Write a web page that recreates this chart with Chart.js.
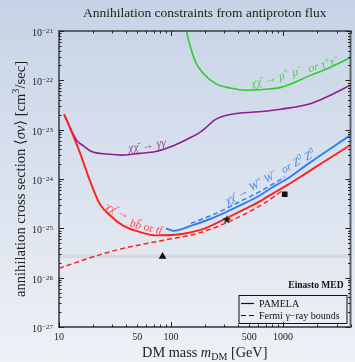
<!DOCTYPE html>
<html>
<head>
<meta charset="utf-8">
<script src="https://cdn.jsdelivr.net/npm/chart.js@4.4.1/dist/chart.umd.min.js"></script>
<style>
  html, body { margin: 0; padding: 0; background: #dde4ef; }
</style>
</head>
<body>
<canvas id="chart" width="355" height="362"></canvas>
<script>
// values: DM mass [GeV] vs <sigma v> [cm^3/s]
const muMass = [134, 138, 149, 165, 189, 248, 347, 457, 692, 955, 1800, 2500, 4000]
const muSigma = [2e-21, 1e-21, 4.8e-22, 2.4e-22, 1.48e-22, 8.7e-23, 6.9e-23, 6.3e-23, 6.6e-23, 7.2e-23, 1.29e-22, 1.74e-22, 2.9e-22]

const gamMass = [11.1, 14.3, 16.5, 19.5, 27, 37, 52, 73, 102, 135, 177, 200, 248, 347, 605, 955, 1780, 2500, 4000]
const gamSigma = [2.05e-23, 6.2e-24, 4.7e-24, 3.6e-24, 3.2e-24, 3.05e-24, 3.3e-24, 3.6e-24, 4.6e-24, 6.2e-24, 8.5e-24, 1.05e-23, 1.6e-23, 2.05e-23, 2.3e-23, 2.6e-23, 3.4e-23, 4.7e-23, 8e-23]

const bbMass = [11.1, 12.5, 15.3, 18.8, 23, 28.3, 37, 52, 73, 120, 177, 217, 303, 427, 603, 843, 1100, 1660, 4000]
const bbSigma = [2.05e-23, 1.1e-23, 3.5e-24, 9.5e-25, 3.2e-25, 1.86e-25, 1.15e-25, 8.5e-26, 7.2e-26, 7.6e-26, 9.1e-26, 1.07e-25, 1.55e-25, 2.29e-25, 3.39e-25, 5.37e-25, 7.59e-25, 1.38e-24, 4.9e-24]

const wwMass = [90, 106, 154, 217, 303, 427, 603, 843, 1100, 1660, 4000]
const wwSigma = [1e-25, 8.9e-26, 1.15e-25, 1.51e-25, 2.09e-25, 3.02e-25, 4.47e-25, 7.24e-25, 1.02e-24, 2.0e-24, 7.76e-24]

// Fermi gamma-ray bounds (dashed)
const fermiBbMass = [10, 23, 37, 78, 145, 177, 303, 603, 843, 960]
const fermiBbSigma = [1.55e-26, 2.9e-26, 3.9e-26, 5.5e-26, 7.2e-26, 8e-26, 1.26e-25, 2.75e-25, 4.5e-25, 5.6e-25]
const fermiWwMass = [150, 217, 303, 427, 603, 843, 1035]
const fermiWwSigma = [1.26e-25, 1.74e-25, 2.45e-25, 3.63e-25, 5.37e-25, 8.3e-25, 1.1e-24]

// thermal cross section band and benchmark points
const bandSigma = 2.72e-26
const triangleMark = [84, 2.7e-26]
const starMark = [315, 1.5e-25]
const squareMark = [1035, 4.9e-25]

const xMin = 10, xMax = 4000
const yMin = 1e-27, yMax = 1e-21
const xTickLabels = [10, 50, 100, 500, 1000]
const yTickExponents = [-27, -26, -25, -24, -23, -22, -21]

const FONT = "'Liberation Serif', 'DejaVu Serif', serif"

const pts = (xs, ys) => xs.map((x, i) => ({ x: x, y: ys[i] }))

// minor + major tick positions (1..9 x 10^n)
const xTickValues = []
for (let e = 1; e <= 3; e++) for (let s = 1; s <= 9; s++) if (s * 10 ** e <= xMax) xTickValues.push(s * 10 ** e)
const yTickValues = []
for (let e = -27; e < -21; e++) for (let s = 1; s <= 9; s++) yTickValues.push(s * 10 ** e)
yTickValues.push(yMax)

const isDecade = (v) => Math.abs(Math.log10(v) - Math.round(Math.log10(v))) < 1e-6

function starImage(r) {
  const c = document.createElement("canvas")
  c.width = c.height = 2 * r + 2
  const g = c.getContext("2d")
  g.beginPath()
  for (let i = 0; i < 10; i++) {
    const a = -Math.PI / 2 + i * Math.PI / 5
    const rr = i % 2 ? r * 0.42 : r
    g.lineTo(r + 1 + rr * Math.cos(a), r + 1 + rr * Math.sin(a))
  }
  g.closePath()
  g.fillStyle = "#111"
  g.fill()
  return c
}

// --- small rich text helper (italic, sup, sub) ---
function setFont(ctx, size, seg) {
  ctx.font = (seg.i ? "italic " : "") + (seg.b ? "bold " : "") + size + "px " + FONT
}
const segSize = (size, seg) => seg.s ? size * 0.7 : size
function richWidth(ctx, segs, size) {
  let w = 0
  for (const seg of segs) {
    setFont(ctx, segSize(size, seg), seg)
    w += ctx.measureText(seg.t).width
  }
  return w
}
function drawRich(ctx, segs, x, y, size, align, supRaise) {
  const w = richWidth(ctx, segs, size)
  let cx = align === "center" ? x - w / 2 : align === "right" ? x - w : x
  ctx.textAlign = "left"
  ctx.textBaseline = "alphabetic"
  for (const seg of segs) {
    setFont(ctx, segSize(size, seg), seg)
    const dy = seg.s === "sup" ? -size * (supRaise || 0.38) : seg.s === "sub" ? size * 0.22 : 0
    ctx.fillText(seg.t, cx, y + dy)
    cx += ctx.measureText(seg.t).width
  }
}

// curve annotations, anchored in data coordinates
const curveLabels = [
  { at: [1276, 1.48e-22], angle: -15, color: "#4fcf4f", size: 12,
    segs: [{ t: "χχ̄ → μ", i: 1 }, { t: "+", s: "sup" }, { t: " μ", i: 1 }, { t: "−", s: "sup" },
           { t: "  or τ", i: 1 }, { t: "+", s: "sup" }, { t: "τ", i: 1 }, { t: "−", s: "sup" }] },
  { at: [61, 4.9e-24], angle: -9, color: "#9c4a9c", size: 12,
    segs: [{ t: "χχ̄ → γγ", i: 1 }] },
  { at: [762, 1.11e-24], angle: -29, color: "#4a8ae8", size: 11.5,
    segs: [{ t: "χχ̄ → W", i: 1 }, { t: "+", s: "sup" }, { t: " W", i: 1 }, { t: "−", s: "sup" },
           { t: "  or Z", i: 1 }, { t: "0", s: "sup", i: 1 }, { t: " Z", i: 1 }, { t: "0", s: "sup", i: 1 }] },
  { at: [33.5, 2.3e-25], angle: 25, color: "#ff4a4a", size: 11.5,
    segs: [{ t: "χχ̄ →", i: 1 }] },
  { at: [60, 1.08e-25], angle: 14, color: "#ff4a4a", size: 11.5,
    segs: [{ t: "bb̄", i: 1 }, { t: " or ", i: 0 }, { t: "tt̄", i: 1 }] }
]

const decor = {
  id: "decor",
  beforeDraw(chart) {
    const { ctx, width, height } = chart
    const g = ctx.createLinearGradient(0, 0, 0, height)
    g.addColorStop(0, "#c6d3e6")
    g.addColorStop(1, "#eef1f6")
    ctx.save()
    ctx.fillStyle = g
    ctx.fillRect(0, 0, width, height)
    ctx.restore()
  },
  afterDraw(chart) {
    const { ctx, chartArea: a } = chart
    const x = chart.scales.x, y = chart.scales.y
    ctx.save()

    // frame
    ctx.strokeStyle = "#5e636b"
    ctx.lineWidth = 2
    ctx.strokeRect(a.left, a.top, a.right - a.left, a.bottom - a.top)

    // inward ticks on all four sides
    ctx.strokeStyle = "#222"
    ctx.lineWidth = 1
    ctx.beginPath()
    for (const t of x.ticks) {
      const px = Math.round(x.getPixelForValue(t.value)) + 0.5
      const len = isDecade(t.value) ? 5 : 2.5
      ctx.moveTo(px, a.bottom); ctx.lineTo(px, a.bottom - len)
      ctx.moveTo(px, a.top); ctx.lineTo(px, a.top + len)
    }
    for (const t of y.ticks) {
      const py = Math.round(y.getPixelForValue(t.value)) + 0.5
      const len = isDecade(t.value) ? 5 : 2.5
      ctx.moveTo(a.left, py); ctx.lineTo(a.left + len, py)
      ctx.moveTo(a.right, py); ctx.lineTo(a.right - len, py)
    }
    ctx.stroke()

    // tick labels
    ctx.fillStyle = "#222"
    for (const v of xTickLabels) {
      drawRich(ctx, [{ t: String(v) }], x.getPixelForValue(v), a.bottom + 13, 10, "center")
    }
    for (const e of yTickExponents) {
      const py = y.getPixelForValue(10 ** e)
      drawRich(ctx, [{ t: "10" }, { t: "−" + Math.abs(e), s: "sup" }], a.left - 6, py + 5, 10, "right", 0.3)
    }

    // axis titles and chart title
    drawRich(ctx, [{ t: "DM mass " }, { t: "m", i: 1 }, { t: "DM", s: "sub" }, { t: " [GeV]" }],
      (a.left + a.right) / 2, 357, 14.3, "center")
    ctx.save()
    ctx.translate(24.5, (a.top + a.bottom) / 2)
    ctx.rotate(-Math.PI / 2)
    drawRich(ctx, [{ t: "annihilation cross section ⟨" }, { t: "σv", i: 1 }, { t: "⟩ [cm" },
      { t: "3", s: "sup" }, { t: "/sec]" }], 0, 0, 14.6, "center")
    ctx.restore()
    drawRich(ctx, [{ t: "Annihilation constraints from antiproton flux" }], (a.left + a.right) / 2, 16.5, 13.5, "center")

    // curve labels
    for (const lb of curveLabels) {
      ctx.save()
      ctx.translate(x.getPixelForValue(lb.at[0]), y.getPixelForValue(lb.at[1]))
      ctx.rotate(lb.angle * Math.PI / 180)
      ctx.fillStyle = lb.color
      drawRich(ctx, lb.segs, 0, lb.size * 0.33, lb.size, "center")
      ctx.restore()
    }

    // profile note
    ctx.fillStyle = "#111"
    drawRich(ctx, [{ t: "Einasto MED", b: 1 }], a.right - 7, a.bottom - 39, 9.5, "right")

    // legend
    const bx = a.right - 111.5, by = a.bottom - 31.5
    ctx.strokeStyle = "#111"
    ctx.lineWidth = 1
    ctx.strokeRect(bx, by, 108, 28)
    ctx.lineWidth = 1.2
    ctx.beginPath()
    ctx.moveTo(bx + 2, by + 8); ctx.lineTo(bx + 15, by + 8)
    ctx.stroke()
    ctx.setLineDash([5, 3])
    ctx.beginPath()
    ctx.moveTo(bx + 2, by + 20); ctx.lineTo(bx + 15, by + 20)
    ctx.stroke()
    ctx.setLineDash([])
    drawRich(ctx, [{ t: "PAMELA" }], bx + 20, by + 11.5, 10, "left")
    drawRich(ctx, [{ t: "Fermi γ−ray bounds" }], bx + 20, by + 23.5, 10, "left")

    ctx.restore()
  }
}

const line = (data, color, width, dash) => ({
  data: data,
  borderColor: color,
  borderWidth: width,
  borderDash: dash || [],
  pointRadius: 0,
  fill: false,
  cubicInterpolationMode: "monotone"
})

const marker = (pt, style, radius) => ({
  data: [{ x: pt[0], y: pt[1] }],
  showLine: false,
  pointStyle: style,
  pointRadius: radius,
  backgroundColor: "#111",
  borderColor: "#111",
  borderWidth: 0
})

new Chart(document.getElementById("chart"), {
  type: "line",
  data: {
    datasets: [
      marker(starMark, starImage(4.5), 4.5),
      marker(squareMark, "rect", 4),
      marker(triangleMark, "triangle", 4.5),
      line(pts(fermiWwMass, fermiWwSigma), "#2f7ff0", 1.5, [5, 3]),
      line(pts(fermiBbMass, fermiBbSigma), "#ff2020", 1.5, [5, 3]),
      line(pts(wwMass, wwSigma), "#2f7ff0", 1.9),
      line(pts(bbMass, bbSigma), "#ff2020", 1.9),
      line(pts(gamMass, gamSigma), "#8e1e8e", 1.6),
      line(pts(muMass, muSigma), "#2ecc2e", 1.6),
      line(pts([xMin, xMax], [bandSigma, bandSigma]), "rgba(214,216,219,0.95)", 3.5)
    ]
  },
  options: {
    responsive: false,
    devicePixelRatio: 1,
    animation: false,
    layout: { padding: { top: 31, right: 1, left: 0, bottom: 0 } },
    plugins: {
      legend: { display: false },
      tooltip: { enabled: false },
      title: { display: false }
    },
    scales: {
      x: {
        type: "logarithmic",
        min: xMin,
        max: xMax,
        grid: { display: false, drawTicks: false },
        border: { display: false },
        ticks: { display: false },
        afterBuildTicks: (scale) => { scale.ticks = xTickValues.map(v => ({ value: v })) },
        afterFit: (scale) => { scale.height = 35 }
      },
      y: {
        type: "logarithmic",
        min: yMin,
        max: yMax,
        grid: { display: false, drawTicks: false },
        border: { display: false },
        ticks: { display: false },
        afterBuildTicks: (scale) => { scale.ticks = yTickValues.map(v => ({ value: v })) },
        afterFit: (scale) => { scale.width = 59 }
      }
    }
  },
  plugins: [decor]
})
</script>
</body>
</html>
